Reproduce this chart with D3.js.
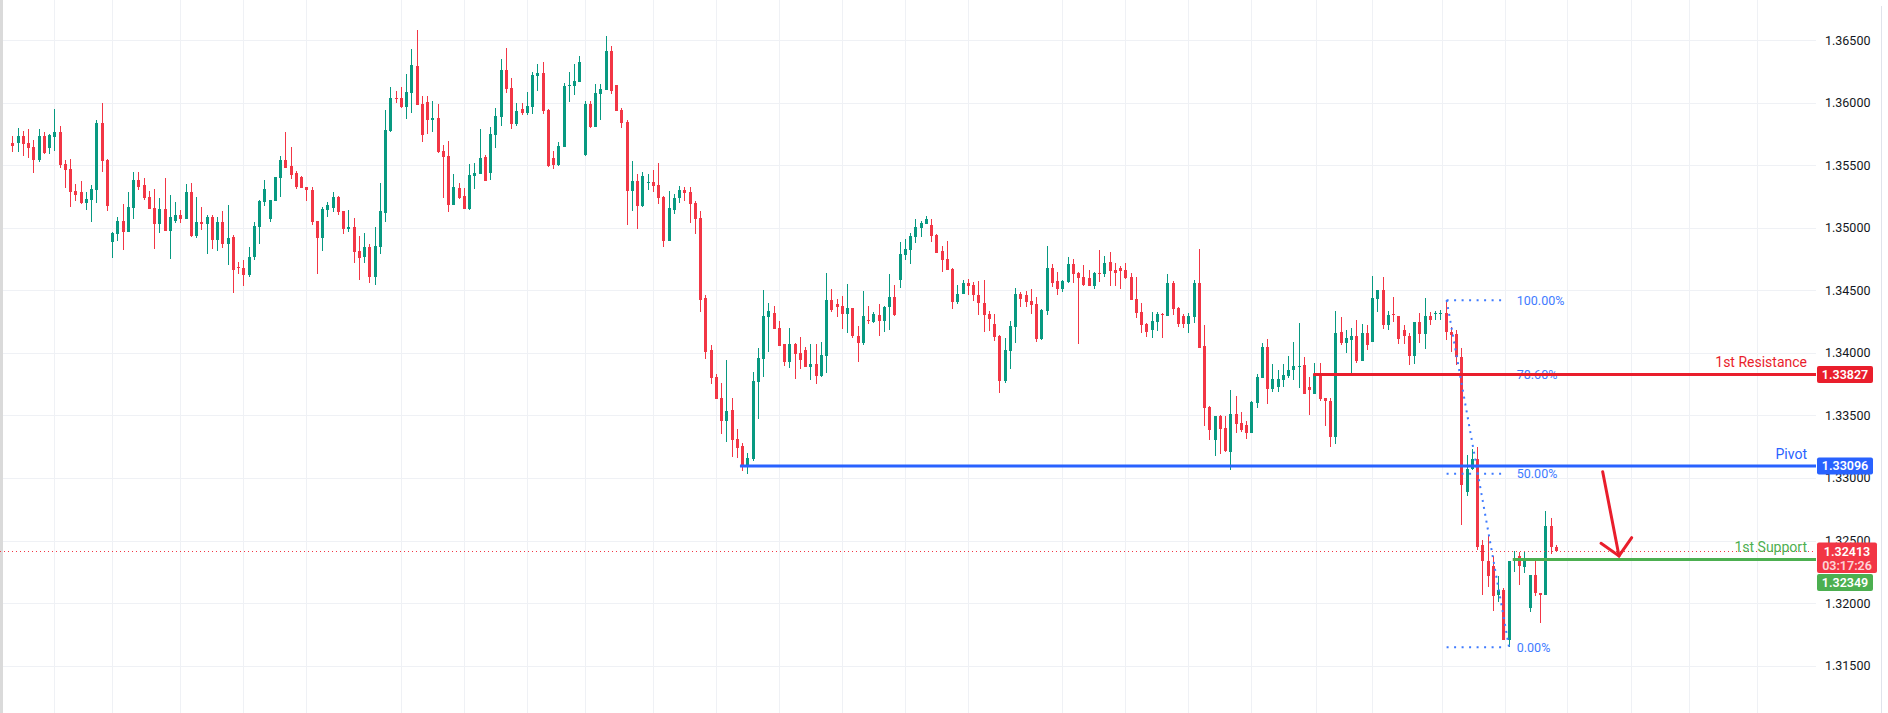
<!DOCTYPE html>
<html><head><meta charset="utf-8">
<script src="https://cdn.jsdelivr.net/npm/d3@7"></script>
<style>html,body{margin:0;padding:0;background:#fff;overflow:hidden}</style>
</head><body><svg id="c" width="1888" height="713"></svg>
<script>
// ---------------- DATA ----------------
const opens=[1.35677,1.35680,1.35733,1.35677,1.35645,1.35544,1.35733,1.35640,1.35728,1.35765,
1.35510,1.35470,1.35294,1.35286,1.35201,1.35225,1.35305,1.35837,1.35542,1.34889,
1.34953,1.35054,1.34969,1.35161,1.35382,1.35342,1.35246,1.35158,1.35033,1.35150,
1.34977,1.35057,1.35102,1.35073,1.35286,1.34937,1.35046,1.35033,1.35086,1.34905,
1.35046,1.34873,1.34926,1.34687,1.34679,1.34626,1.34767,1.35009,1.35209,1.35073,
1.35217,1.35400,1.35542,1.35496,1.35438,1.35406,1.35326,1.35305,1.35054,1.34921,
1.35145,1.35161,1.35246,1.35134,1.34990,1.35006,1.34815,1.34767,1.34847,1.34607,
1.34847,1.35118,1.35773,1.36037,1.36037,1.35965,1.36077,1.36293,1.35989,1.36005,
1.35864,1.35877,1.35613,1.35574,1.35182,1.35318,1.35254,1.35150,1.35414,1.35430,
1.35566,1.35438,1.35741,1.35885,1.36261,1.36117,1.35829,1.35949,1.35917,1.35965,
1.36213,1.36237,1.35941,1.35558,1.35502,1.35645,1.36133,1.36133,1.36165,1.35582,
1.35989,1.35805,1.36069,1.36101,1.36412,1.36141,1.35941,1.35845,1.35294,1.35374,
1.35174,1.35358,1.35366,1.35342,1.35246,1.34894,1.35142,1.35238,1.35302,1.35286,
1.35198,1.35078,1.34439,1.34024,1.33808,1.33640,1.33456,1.33544,1.33313,1.33257,
1.33097,1.33153,1.33768,1.33952,1.34287,1.34319,1.34199,1.34072,1.33928,1.34072,
1.34000,1.34024,1.33888,1.33912,1.33816,1.33976,1.34423,1.34391,1.34375,1.34311,
1.34359,1.34136,1.34080,1.34266,1.34247,1.34303,1.34255,1.34367,1.34447,1.34583,
1.34783,1.34823,1.34926,1.34998,1.35030,1.35022,1.34942,1.34815,1.34751,1.34671,
1.34407,1.34471,1.34559,1.34543,1.34463,1.34399,1.34311,1.34231,1.34136,1.33776,
1.34016,1.34207,1.34471,1.34463,1.34415,1.34391,1.34112,1.34335,1.34679,1.34575,
1.34511,1.34567,1.34711,1.34639,1.34607,1.34599,1.34535,1.34641,1.34631,1.34727,
1.34663,1.34679,1.34663,1.34607,1.34431,1.34327,1.34231,1.34183,1.34247,1.34311,
1.34295,1.34559,1.34359,1.34295,1.34231,1.34287,1.34559,1.34056,1.33568,1.33305,
1.33496,1.33401,1.33209,1.33512,1.33440,1.33424,1.33361,1.33600,1.33800,1.34048,
1.33712,1.33728,1.33784,1.33816,1.33864,1.33888,1.33904,1.33728,1.33672,1.33832,
1.33640,1.33616,1.33329,1.34167,1.34080,1.34104,1.34136,1.33936,1.34159,1.34088,
1.34431,1.34503,1.34223,1.34311,1.34295,1.34183,1.34136,1.33976,1.34247,1.34152,
1.34295,1.34311,1.34311,1.34319,1.34167,1.34152,1.33965,1.32889,1.33070,1.33153,
1.32466,1.32338,1.32293,1.32066,1.32106,1.31702,1.32333,1.32373,1.32287,1.31960,
1.32226,1.32080,1.32066,1.32618,1.32452];
const highs=[1.35733,1.35797,1.35773,1.35789,1.35701,1.35789,1.35765,1.35749,1.35949,1.35813,
1.35542,1.35550,1.35350,1.35374,1.35289,1.35345,1.35861,1.35997,1.35550,1.34966,
1.35089,1.35190,1.35286,1.35446,1.35446,1.35398,1.35294,1.35310,1.35238,1.35400,
1.35262,1.35206,1.35145,1.35350,1.35358,1.35246,1.35163,1.35102,1.35102,1.35084,
1.35134,1.35182,1.34942,1.34729,1.34745,1.34847,1.35049,1.35222,1.35382,1.35219,
1.35406,1.35576,1.35765,1.35645,1.35454,1.35416,1.35326,1.35326,1.35054,1.35166,
1.35209,1.35286,1.35254,1.35134,1.35142,1.35078,1.34934,1.34958,1.34871,1.35006,
1.35358,1.35941,1.36125,1.36093,1.36125,1.36229,1.36428,1.36580,1.36053,1.36053,
1.36013,1.35989,1.35661,1.35693,1.35430,1.35358,1.35318,1.35510,1.35518,1.35789,
1.35582,1.35805,1.35957,1.36348,1.36436,1.36197,1.35997,1.35997,1.36085,1.36245,
1.36309,1.36325,1.35949,1.35613,1.35685,1.36157,1.36245,1.36309,1.36372,1.36013,
1.36013,1.36149,1.36149,1.36532,1.36452,1.36141,1.35957,1.35861,1.35534,1.35430,
1.35446,1.35430,1.35462,1.35518,1.35254,1.35294,1.35270,1.35334,1.35326,1.35326,
1.35214,1.35134,1.34463,1.34064,1.33832,1.33760,1.33944,1.33640,1.33393,1.33281,
1.33201,1.33848,1.34040,1.34503,1.34399,1.34375,1.34255,1.34072,1.34199,1.34080,
1.34128,1.34048,1.34072,1.34072,1.34088,1.34639,1.34511,1.34431,1.34455,1.34551,
1.34359,1.34215,1.34495,1.34375,1.34327,1.34391,1.34375,1.34631,1.34543,1.34886,
1.34910,1.34958,1.35070,1.35054,1.35094,1.35070,1.34950,1.34855,1.34894,1.34679,
1.34543,1.34583,1.34591,1.34567,1.34575,1.34583,1.34335,1.34311,1.34144,1.34120,
1.34255,1.34519,1.34487,1.34495,1.34511,1.34447,1.34351,1.34855,1.34711,1.34647,
1.34583,1.34767,1.34751,1.34647,1.34703,1.34663,1.34647,1.34823,1.34775,1.34807,
1.34719,1.34695,1.34719,1.34639,1.34607,1.34399,1.34239,1.34327,1.34327,1.34319,
1.34631,1.34575,1.34367,1.34311,1.34319,1.34583,1.34831,1.34223,1.33576,1.33496,
1.33504,1.33496,1.33704,1.33656,1.33528,1.33456,1.33616,1.33832,1.34080,1.34112,
1.33912,1.33864,1.33912,1.33976,1.34088,1.34239,1.33968,1.33808,1.33920,1.33920,
1.33640,1.33640,1.34335,1.34287,1.34183,1.34199,1.34263,1.34231,1.34223,1.34615,
1.34503,1.34607,1.34335,1.34447,1.34295,1.34223,1.34159,1.34247,1.34319,1.34439,
1.34327,1.34335,1.34343,1.34421,1.34207,1.34183,1.34037,1.33187,1.33230,1.33251,
1.32506,1.32546,1.32373,1.32218,1.32119,1.32333,1.32413,1.32405,1.32413,1.32226,
1.32346,1.32080,1.32740,1.32684,1.32466];
const lows=[1.35608,1.35608,1.35576,1.35560,1.35440,1.35528,1.35592,1.35592,1.35616,1.35480,
1.35321,1.35169,1.35214,1.35193,1.35145,1.35049,1.35201,1.35448,1.35137,1.34761,
1.34897,1.34825,1.34969,1.35070,1.35305,1.35225,1.35153,1.34833,1.34961,1.34977,
1.34753,1.35041,1.35041,1.35073,1.34929,1.34921,1.34985,1.34793,1.34833,1.34817,
1.34841,1.34705,1.34482,1.34634,1.34538,1.34610,1.34745,1.34873,1.35177,1.35049,
1.35217,1.35249,1.35480,1.35390,1.35313,1.35321,1.35217,1.35025,1.34634,1.34817,
1.35089,1.35126,1.35102,1.34950,1.34966,1.34719,1.34583,1.34719,1.34559,1.34543,
1.34791,1.35046,1.35765,1.35997,1.35957,1.35869,1.35917,1.35981,1.35685,1.35749,
1.35765,1.35598,1.35238,1.35126,1.35182,1.35230,1.35150,1.35142,1.35310,1.35430,
1.35374,1.35382,1.35637,1.35813,1.36077,1.35789,1.35813,1.35901,1.35901,1.35909,
1.36093,1.35909,1.35486,1.35470,1.35494,1.35645,1.36005,1.36061,1.36165,1.35574,
1.35797,1.35805,1.35861,1.36101,1.36069,1.35933,1.35797,1.35022,1.35134,1.34990,
1.35166,1.35302,1.35286,1.35193,1.34849,1.34894,1.35110,1.35198,1.35214,1.35038,
1.34950,1.34327,1.33952,1.33752,1.33632,1.33353,1.33289,1.33169,1.33161,1.33057,
1.33033,1.33137,1.33472,1.33808,1.34008,1.34191,1.34056,1.33896,1.33880,1.33792,
1.33872,1.33888,1.33784,1.33752,1.33808,1.33840,1.34327,1.34287,1.34191,1.34159,
1.34120,1.33928,1.34064,1.34231,1.34239,1.34136,1.34167,1.34183,1.34295,1.34519,
1.34743,1.34711,1.34879,1.34926,1.35030,1.34886,1.34799,1.34647,1.34663,1.34351,
1.34391,1.34471,1.34463,1.34415,1.34303,1.34167,1.34175,1.34096,1.33680,1.33760,
1.33872,1.34080,1.34367,1.34367,1.34311,1.34088,1.34104,1.34303,1.34527,1.34463,
1.34487,1.34559,1.34559,1.34072,1.34535,1.34535,1.34511,1.34567,1.34607,1.34535,
1.34535,1.34511,1.34591,1.34423,1.34279,1.34159,1.34128,1.34120,1.34175,1.34120,
1.34295,1.34303,1.34207,1.34199,1.34159,1.34239,1.34040,1.33417,1.33305,1.33177,
1.33193,1.33209,1.33065,1.33361,1.33369,1.33313,1.33361,1.33560,1.33800,1.33592,
1.33688,1.33688,1.33728,1.33800,1.33784,1.33720,1.33672,1.33504,1.33672,1.33616,
1.33417,1.33249,1.33273,1.34064,1.34000,1.33840,1.33920,1.33936,1.34024,1.34088,
1.34327,1.34191,1.34183,1.34247,1.34072,1.34072,1.33904,1.33912,1.34080,1.34032,
1.34223,1.34263,1.34263,1.34104,1.34008,1.33904,1.32626,1.32857,1.33065,1.32426,
1.32061,1.32128,1.31941,1.32013,1.31702,1.31648,1.32245,1.32146,1.32239,1.31933,
1.32053,1.31845,1.32066,1.32394,1.32413];
const closes=[1.35656,1.35733,1.35672,1.35640,1.35544,1.35733,1.35598,1.35739,1.35765,1.35502,
1.35464,1.35289,1.35265,1.35201,1.35230,1.35310,1.35837,1.35536,1.35177,1.34958,
1.35054,1.34969,1.35166,1.35382,1.35329,1.35241,1.35153,1.35033,1.35150,1.34977,
1.35086,1.35102,1.35073,1.35286,1.34934,1.35046,1.35033,1.35086,1.34905,1.35046,
1.34873,1.34918,1.34665,1.34679,1.34626,1.34767,1.35014,1.35214,1.35310,1.35219,
1.35406,1.35542,1.35480,1.35424,1.35329,1.35321,1.35299,1.35049,1.34921,1.35150,
1.35182,1.35246,1.35126,1.34990,1.35006,1.34807,1.34759,1.34847,1.34607,1.34855,
1.35134,1.35781,1.36037,1.36029,1.35965,1.36085,1.36301,1.35981,1.35741,1.35861,
1.35877,1.35606,1.35566,1.35182,1.35326,1.35238,1.35150,1.35422,1.35438,1.35558,
1.35374,1.35749,1.35893,1.36261,1.36109,1.35829,1.35933,1.35917,1.35973,1.36221,
1.36237,1.35933,1.35494,1.35502,1.35653,1.36133,1.36141,1.36173,1.36325,1.35989,
1.35805,1.36077,1.36109,1.36412,1.36093,1.35933,1.35837,1.35294,1.35374,1.35174,
1.35414,1.35366,1.35334,1.35238,1.34894,1.35158,1.35238,1.35302,1.35278,1.35190,
1.35070,1.34423,1.34010,1.33800,1.33632,1.33456,1.33536,1.33305,1.33241,1.33092,
1.33161,1.33776,1.33960,1.34295,1.34335,1.34191,1.34056,1.33928,1.34072,1.33992,
1.33944,1.33888,1.33912,1.33816,1.33984,1.34423,1.34343,1.34367,1.34311,1.34359,
1.34136,1.34080,1.34295,1.34258,1.34311,1.34258,1.34367,1.34447,1.34303,1.34791,
1.34831,1.34934,1.35006,1.35038,1.35070,1.34934,1.34799,1.34743,1.34663,1.34407,
1.34471,1.34559,1.34535,1.34463,1.34399,1.34303,1.34271,1.34128,1.33776,1.34024,
1.34215,1.34471,1.34431,1.34407,1.34383,1.34112,1.34343,1.34679,1.34559,1.34511,
1.34575,1.34711,1.34631,1.34599,1.34543,1.34535,1.34641,1.34631,1.34719,1.34655,
1.34639,1.34655,1.34599,1.34423,1.34319,1.34223,1.34167,1.34255,1.34311,1.34303,
1.34559,1.34351,1.34231,1.34231,1.34295,1.34559,1.34040,1.33560,1.33385,1.33496,
1.33393,1.33217,1.33512,1.33432,1.33385,1.33361,1.33608,1.33808,1.34048,1.33712,
1.33792,1.33792,1.33824,1.33864,1.33896,1.33896,1.33672,1.33704,1.33832,1.33632,
1.33616,1.33329,1.34159,1.34080,1.34120,1.34136,1.33936,1.34159,1.34064,1.34439,
1.34503,1.34223,1.34303,1.34303,1.34112,1.34136,1.33976,1.34247,1.34152,1.34295,
1.34263,1.34319,1.34319,1.34167,1.34144,1.33965,1.32940,1.33070,1.33153,1.32452,
1.32333,1.32213,1.32053,1.32101,1.31702,1.32333,1.32359,1.32293,1.32351,1.32226,
1.32080,1.32066,1.32618,1.32452,1.32413];

const yTicks=[1.315,1.320,1.325,1.330,1.335,1.340,1.345,1.350,1.355,1.360,1.365];
const gridIdx=[8,19,32,44,56,74,86,98,109,122,134,146,158,170,182,200,212,224,236,248.3,259,272.3,284.3,296.2,308.3,319.4,332.3];

const levelValues=[1.33827,1.33096,1.32349];
const levelNames=["1st Resistance","Pivot","1st Support"];
const levelStartIdx=[247.8,138.6,285.8];
const levelColors=["#e91e2c","#2962ff","#4caf50"];
const lastPrice=1.32413;
const countdown="03:17:26";

const fibHigh=1.34421, fibLow=1.31648;
const fibLevels=[1,0.786,0.5,0];
const fibLabels=["100.00%","78.60%","50.00%","0.00%"];
const fibStartIdx=273.2, fibEndIdx=283.9, fibDiagEndIdx=285.1;

const arrowShaft=[[302.93,1.33050],[306.04,1.32377]];
const arrowHead=[[302.61,1.32478],[306.04,1.32377],[308.46,1.32523]];

// ---------------- LAYOUT ----------------
const W=1888,H=713, plotRight=1816;
const UP="#089981", DOWN="#f23645", GRID="#eff1f5", FONT="Roboto, 'Liberation Sans', Arial, sans-serif";
const svg=d3.select("#c");
const n=opens.length;
const x=d3.scaleLinear().domain([0,n-1]).range([12.3,12.3+(n-1)*5.25]);
const y=d3.scaleLinear().domain([1.315,1.365]).range([665.7,40]);

svg.append("rect").attr("width",W).attr("height",H).attr("fill","#fff");

// grid
const grid=svg.append("g").attr("shape-rendering","crispEdges");
grid.selectAll("line.h").data(yTicks).join("line")
  .attr("x1",3).attr("x2",plotRight).attr("y1",d=>Math.round(y(d))+0.5).attr("y2",d=>Math.round(y(d))+0.5)
  .attr("stroke",GRID).attr("stroke-width",1);
grid.selectAll("line.v").data(gridIdx).join("line")
  .attr("x1",d=>Math.round(x(d))+0.5).attr("x2",d=>Math.round(x(d))+0.5).attr("y1",0).attr("y2",H)
  .attr("stroke",GRID).attr("stroke-width",1);

// left strip and right border
svg.append("rect").attr("x",0).attr("y",0).attr("width",3).attr("height",H).attr("fill","#dadada");
svg.append("line").attr("x1",1881.5).attr("x2",1881.5).attr("y1",6).attr("y2",H)
  .attr("stroke","#e0e3eb").attr("stroke-width",1);

// candles
const idx=d3.range(n);
const col=i=>closes[i]>=opens[i]?UP:DOWN;
const cg=svg.append("g").attr("shape-rendering","crispEdges");
cg.selectAll("line").data(idx).join("line")
  .attr("x1",i=>Math.round(x(i))+0.5).attr("x2",i=>Math.round(x(i))+0.5)
  .attr("y1",i=>y(highs[i])).attr("y2",i=>y(lows[i]))
  .attr("stroke",col).attr("stroke-width",1);
cg.selectAll("rect").data(idx).join("rect")
  .attr("x",i=>Math.round(x(i))-1).attr("width",3)
  .attr("y",i=>y(Math.max(opens[i],closes[i])))
  .attr("height",i=>Math.max(1,Math.abs(y(opens[i])-y(closes[i]))))
  .attr("fill",col);

// current price dotted line
svg.append("line").attr("x1",0).attr("x2",plotRight)
  .attr("y1",Math.round(y(lastPrice))+0.5).attr("y2",Math.round(y(lastPrice))+0.5)
  .attr("stroke",DOWN).attr("stroke-width",1).attr("stroke-dasharray","1 3");

// fib
const FIB="#3f7bff";
const fg=svg.append("g");
fibLevels.forEach((lv,k)=>{
  const v=fibLow+lv*(fibHigh-fibLow);
  fg.append("line").attr("x1",x(fibStartIdx)).attr("x2",x(fibEndIdx)).attr("y1",y(v)).attr("y2",y(v))
    .attr("stroke",FIB).attr("stroke-width",2).attr("stroke-dasharray","2 5.5");
  fg.append("text").attr("x",x(fibEndIdx)+14).attr("y",y(v)).attr("dy","0.36em")
    .attr("font-family",FONT).attr("font-size",12.5).attr("fill",FIB).text(fibLabels[k]);
});
fg.append("line").attr("x1",x(fibStartIdx)).attr("y1",y(fibHigh)).attr("x2",x(fibDiagEndIdx)).attr("y2",y(fibLow))
  .attr("stroke",FIB).attr("stroke-width",2).attr("stroke-dasharray","2 5");

// levels
levelValues.forEach((v,k)=>{
  svg.append("line").attr("x1",x(levelStartIdx[k])).attr("x2",plotRight).attr("y1",y(v)).attr("y2",y(v))
    .attr("stroke",levelColors[k]).attr("stroke-width",3);
  svg.append("text").attr("x",plotRight-9).attr("y",y(v)-7).attr("text-anchor","end")
    .attr("font-family",FONT).attr("font-size",14).attr("fill",levelColors[k]).text(levelNames[k]);
});

// arrow
const lineGen=d3.line().x(d=>x(d[0])).y(d=>y(d[1]));
svg.append("path").attr("d",lineGen(arrowShaft)).attr("fill","none").attr("stroke","#e91e2c").attr("stroke-width",3).attr("stroke-linecap","round");
svg.append("path").attr("d",lineGen(arrowHead)).attr("fill","none").attr("stroke","#e91e2c").attr("stroke-width",3).attr("stroke-linecap","round").attr("stroke-linejoin","miter");

// axis labels
svg.append("g").selectAll("text").data(yTicks).join("text")
  .attr("x",1825).attr("y",d=>y(d)).attr("dy","0.36em")
  .attr("font-family",FONT).attr("font-size",12.5).attr("fill","#131722")
  .text(d=>d.toFixed(5));

// tags
function tag(yTop,h,w,fill,lines,lineStep,firstOff){
  const g=svg.append("g");
  g.append("rect").attr("x",1817).attr("y",yTop).attr("width",w).attr("height",h).attr("rx",2).attr("fill",fill);
  lines.forEach((t,k)=>{
    g.append("text").attr("x",1817+w/2).attr("y",yTop+firstOff+k*lineStep).attr("dy","0.36em").attr("text-anchor","middle")
      .attr("font-family",FONT).attr("font-size",12.5).attr("font-weight",600)
      .attr("fill","#fff").attr("fill-opacity",k? 0.8:1).text(t);
  });
}
tag(y(levelValues[0])-8.5,17,56,levelColors[0],[levelValues[0].toFixed(5)],0,8.5);
tag(y(levelValues[1])-8.5,17,56,levelColors[1],[levelValues[1].toFixed(5)],0,8.5);
const curTop=y(lastPrice)-9;
tag(curTop,30.5,60,DOWN,[lastPrice.toFixed(5),countdown],14,9);
tag(curTop+31.5,17,56,levelColors[2],[levelValues[2].toFixed(5)],0,8.5);
</script></body></html>
